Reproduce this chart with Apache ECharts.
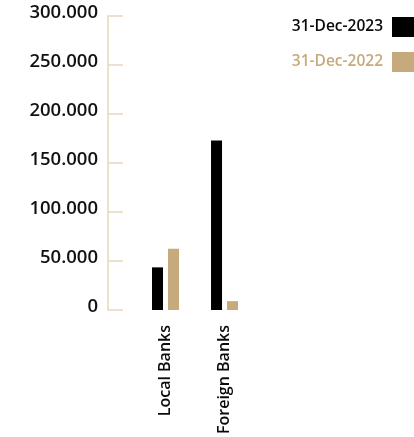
<!DOCTYPE html>
<html>
<head>
<meta charset="utf-8">
<script src="https://cdn.jsdelivr.net/npm/echarts@6/dist/echarts.min.js"></script>
<style>
  html, body { margin: 0; padding: 0; background: #ffffff; }
  #chart { width: 414px; height: 437px; }
</style>
</head>
<body>
<div id="chart"></div>
<script>
// Bank exposures by counterparty group
const categories = ['Local Banks', 'Foreign Banks'];
const seriesNames = ['31-Dec-2023', '31-Dec-2022'];
const values2023 = [43500, 173000];
const values2022 = [62500, 9000];
const yTicks = [0, 50000, 100000, 150000, 200000, 250000, 300000];

const BLACK = '#000000';
const TAN = '#c6aa7c';
const AXIS = '#e6d7bd';
const FONT = '"Open Sans", "Noto Sans", sans-serif';

// thousands separated by dots: 300000 -> 300.000
function fmt(v) {
  return String(Math.round(v)).replace(/\B(?=(\d{3})+(?!\d))/g, '.');
}

const chart = echarts.init(document.getElementById('chart'), null, { renderer: 'canvas' });
chart.setOption({
  animation: false,
  backgroundColor: '#ffffff',
  textStyle: { fontFamily: FONT },
  legend: {
    orient: 'vertical',
    right: -4,
    top: 17,
    padding: 0,
    align: 'right',
    itemWidth: 26,
    itemHeight: 20,
    itemGap: 15,
    icon: 'rect',
    textStyle: { fontSize: 15.5, fontWeight: 600, fontFamily: FONT, padding: [0, 4, 0, 0] },
    data: [
      { name: seriesNames[0], textStyle: { color: '#0a0a0a' } },
      { name: seriesNames[1], textStyle: { color: TAN } }
    ]
  },
  grid: { left: 136, right: 160, top: 16, bottom: 124, containLabel: false },
  xAxis: {
    type: 'category',
    data: categories,
    axisLine: { show: false },
    axisTick: { show: false },
    axisLabel: { rotate: 90, margin: 15, fontSize: 16, fontWeight: 600, color: '#0a0a0a', fontFamily: FONT }
  },
  yAxis: {
    type: 'value',
    min: yTicks[0],
    max: yTicks[yTicks.length - 1],
    interval: yTicks[1] - yTicks[0],
    offset: 28,
    axisLine: { show: true, lineStyle: { color: AXIS, width: 1.5 } },
    axisTick: { show: true, inside: true, length: 15, lineStyle: { color: AXIS, width: 1.5 } },
    splitLine: { show: false },
    axisLabel: {
      margin: 10, fontSize: 18.5, fontWeight: 600, color: '#111111', fontFamily: FONT,
      verticalAlign: 'bottom', lineHeight: 6, formatter: fmt
    }
  },
  series: [
    { name: seriesNames[0], type: 'bar', data: values2023, barWidth: 11, barGap: '45%', itemStyle: { color: BLACK } },
    { name: seriesNames[1], type: 'bar', data: values2022, barWidth: 11, itemStyle: { color: TAN } }
  ]
});
</script>
</body>
</html>
